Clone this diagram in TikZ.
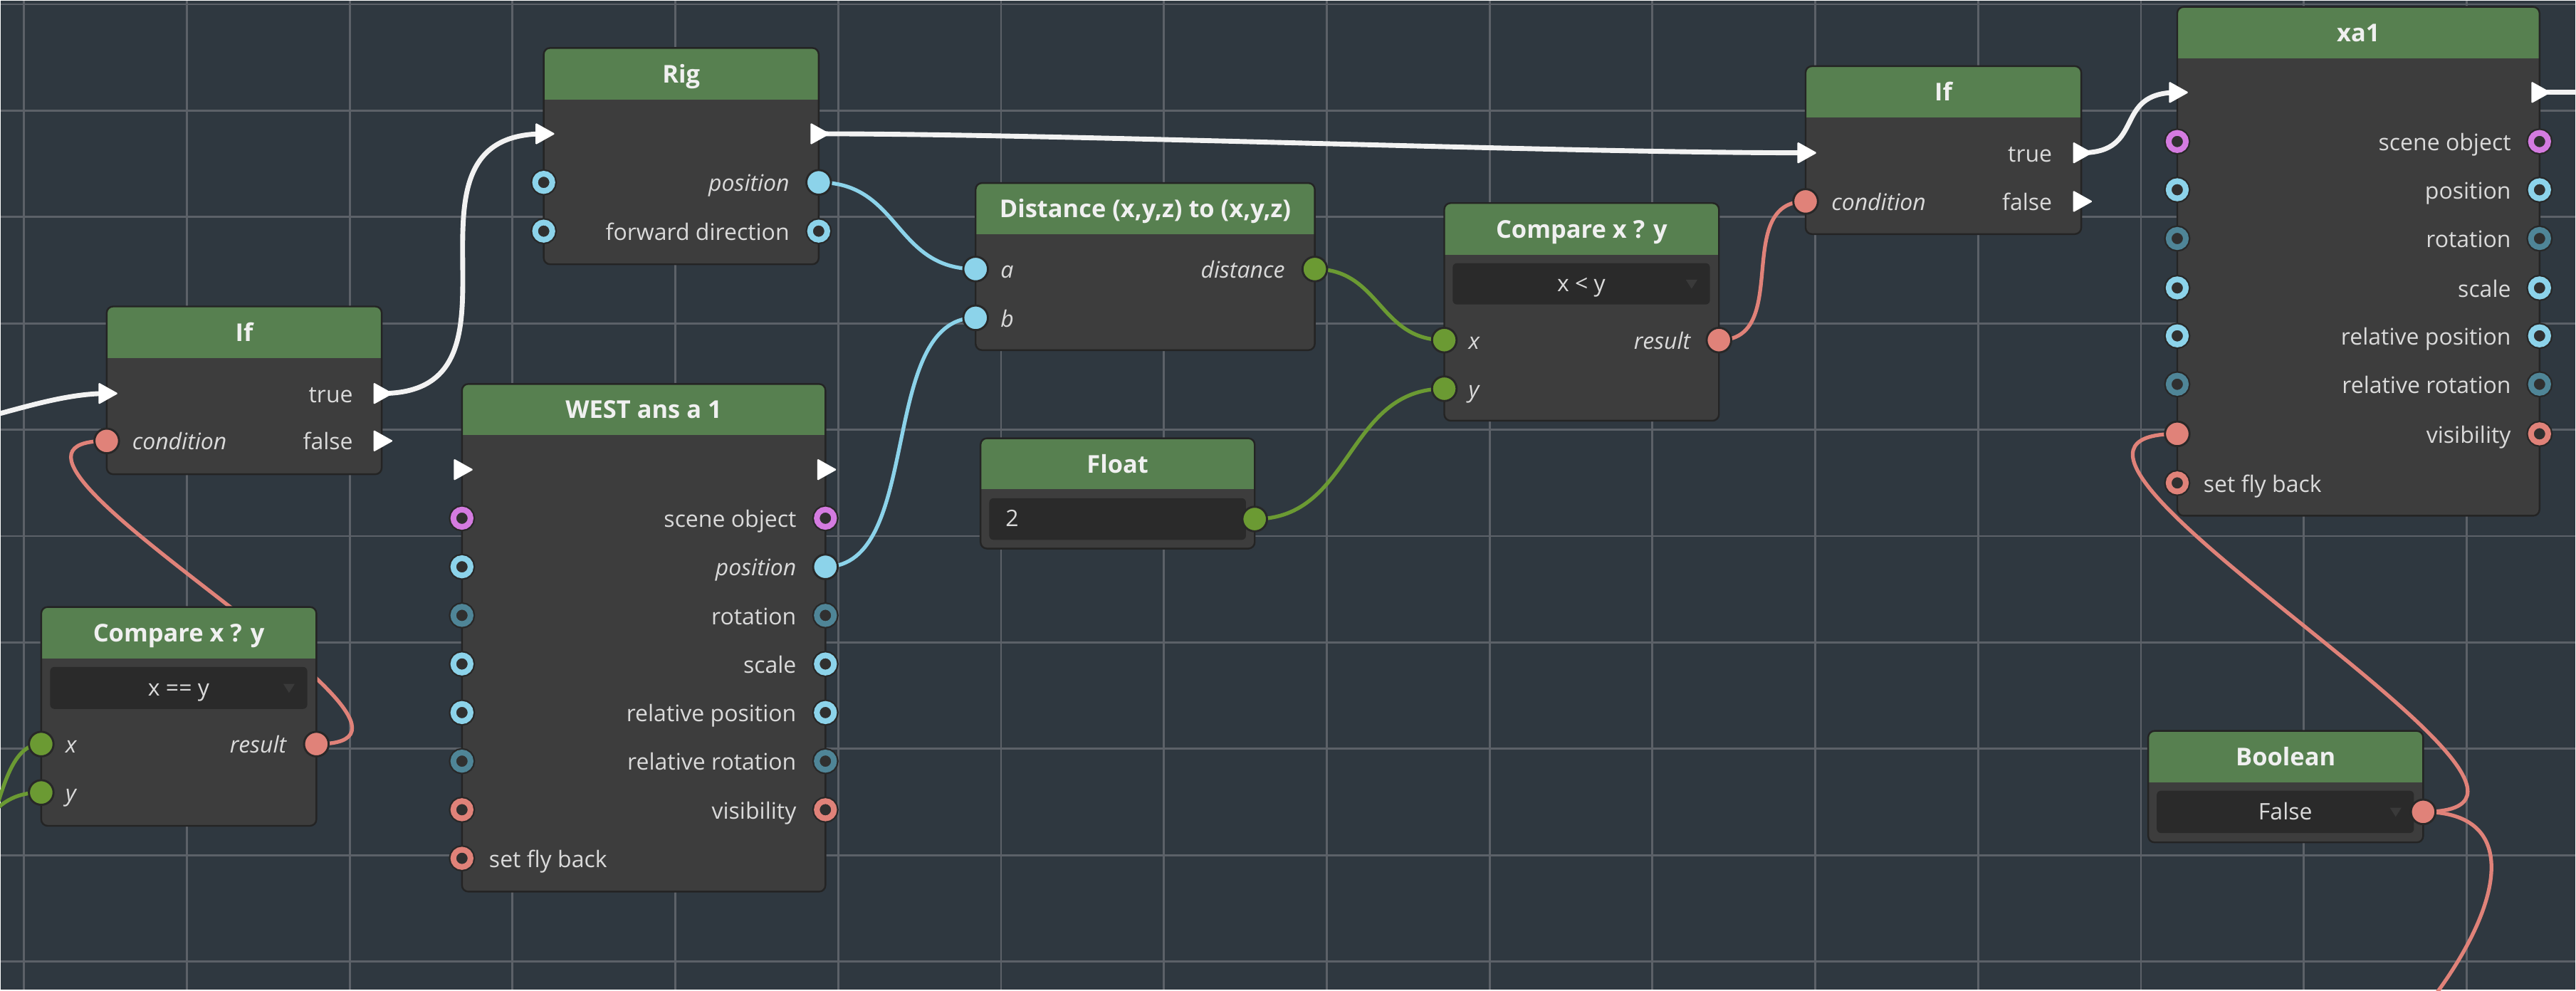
\documentclass[tikz,border=0pt]{standalone}
\usepackage{fontspec}
\setmainfont{Open Sans}
\usetikzlibrary{calc,fit}
\pgfdeclarelayer{gridlayer}
\pgfdeclarelayer{wirelayer}
\pgfsetlayers{gridlayer,wirelayer,main}
\definecolor{bgc}{RGB}{47,56,64}
\definecolor{gridc}{RGB}{92,97,104}
\definecolor{bodyc}{RGB}{61,61,61}
\definecolor{hdrc}{RGB}{87,128,80}
\definecolor{edgec}{RGB}{36,36,36}
\definecolor{ddc}{RGB}{42,42,42}
\definecolor{ddtric}{RGB}{58,58,58}
\definecolor{ttlc}{RGB}{240,240,240}
\definecolor{lblc}{RGB}{218,218,218}
\definecolor{ppink}{RGB}{224,130,121}
\definecolor{pgreen}{RGB}{107,154,51}
\definecolor{pblue}{RGB}{140,211,234}
\definecolor{pteal}{RGB}{79,133,151}
\definecolor{ppurple}{RGB}{212,123,224}
\definecolor{pinhole}{RGB}{48,48,48}
\definecolor{pinedge}{RGB}{40,40,40}
\definecolor{wirew}{RGB}{242,242,242}
\newcommand\lblfont{\fontsize{7.9}{9.5}\selectfont}
\newcommand\ttlfont{\fontsize{8.5}{10}\selectfont\bfseries}
\tikzset{
  gridl/.style={draw=gridc, line width=0.7pt},
  lbl/.style={text=lblc, font=\lblfont, inner sep=0pt},
  lbli/.style={lbl, font=\lblfont\itshape},
  ttl/.style={text=ttlc, font=\ttlfont, inner sep=0pt, anchor=base},
  ddtxt/.style={text=lblc, font=\lblfont, inner sep=0pt},
  hpin/.style={circle, draw=#1, fill=pinhole, line width=0.07cm, minimum size=0.21cm, inner sep=0pt, preaction={draw=pinedge, line width=0.11cm}},
  fpin/.style={circle, fill=#1, draw=pinedge, line width=0.025cm, minimum size=0.3cm, inner sep=0pt},
  xw/.style={draw=wirew, line width=1.7pt, line cap=round},
  cw/.style={draw=#1, line width=1.3pt, line cap=round},
}
\newcommand\gbox[7]{%
  \begin{scope}
    \clip[rounded corners=2.2pt] (#2,#3) rectangle (#4,#5);
    \fill[bodyc] (#2,#3) rectangle (#4,#5);
    \fill[hdrc] (#2,#3) rectangle (#4,#6);
  \end{scope}
  \node[fit={(#2,#3) (#4,#5)}, inner sep=0pt, draw=edgec, line width=0.6pt, rounded corners=2.2pt] (#1) {};
  \node[ttl] (#1-title) at ($(#2,#3)!0.5!(#4,#6) + (0,5.5)$) {#7};
}
\newcommand\ddbox[6]{%
  \node[fit={(#2,#3) (#4,#5)}, inner sep=0pt, fill=ddc, rounded corners=1.5pt] (#1) {};
  \node[ddtxt, anchor=base] (#1-txt) at ($(#1.center)+(0,4.8)$) {#6};
}
\newcommand\ddtri[1]{\fill[ddtric] ($(#1.east)+(-15,-2.5)$) -- ++(7,0) -- ++(-3.5,5.5) -- cycle;}
\newcommand\hp[4]{\node[hpin=#2] (#1) at (#3,#4) {};}
\newcommand\fp[4]{\node[fpin=#2] (#1) at (#3,#4) {};}
\newcommand\ex[3]{\coordinate (#1) at (#2,#3);
  \fill[white, rounded corners=0.4pt] ($(#1)+(-5,-6.7)$) -- ($(#1)+(7,0)$) -- ($(#1)+(-5,6.7)$) -- cycle;}
\begin{document}
\begin{tikzpicture}[x=0.02cm, y=-0.02cm]
\begin{pgfonlayer}{gridlayer}
  \fill[bgc] (0,0) rectangle (1568,602.4);
  \foreach \k in {0,...,15} \draw[gridl] ({14+99.2*\k},0) -- ({14+99.2*\k},602.4);
  \foreach \k in {0,...,9} \draw[gridl] (0,{2+64.8*\k}) -- (1568,{2+64.8*\k});
\end{pgfonlayer}
\useasboundingbox (0,0) rectangle (1568,602.4);

% ---- If (left)
\gbox{ifA}{64.4}{186.1}{231.9}{288.3}{217.7}{If}
\ex{ifA-in}{64.4}{239.1}
\ex{ifA-true}{231.9}{239.1}
\ex{ifA-false}{231.9}{268}
\fp{ifA-cond}{ppink}{64.4}{268}
\node[lbl, anchor=base east] (ifA-ttrue) at (214.7,239.1+5.5) {true};
\node[lbl, anchor=base east] (ifA-tfalse) at (214.7,268+5.5) {false};
\node[lbli, anchor=base west] (ifA-tcond) at (79.6,268+5.5) {condition};

% ---- Compare (left)
\gbox{cmpA}{24.5}{369.2}{192.1}{502.5}{400.5}{Compare x ? y}
\ddbox{cmpA-dd}{29.9}{405.7}{186.6}{431.3}{x == y}
\ddtri{cmpA-dd}
\fp{cmpA-x}{pgreen}{24.5}{452.7}
\fp{cmpA-y}{pgreen}{24.5}{482.2}
\fp{cmpA-res}{ppink}{192.1}{452.7}
\node[lbli, anchor=base west] (cmpA-tx) at (39,452.7+5.5) {x};
\node[lbli, anchor=base west] (cmpA-ty) at (39,482.2+5.5) {y};
\node[lbli, anchor=base east] (cmpA-tres) at (174.2,452.7+5.5) {result};

% ---- Rig
\gbox{rig}{330.6}{28.6}{498.1}{160.4}{60}{Rig}
\ex{rig-in}{330.6}{80.9}
\ex{rig-out}{498.1}{80.9}
\hp{rig-lpos}{pblue}{330.6}{110.5}
\fp{rig-rpos}{pblue}{498.1}{110.5}
\hp{rig-lfwd}{pblue}{330.6}{140.2}
\hp{rig-rfwd}{pblue}{498.1}{140.2}
\node[lbli, anchor=base east] (rig-tpos) at (480.6,110.5+5.5) {position};
\node[lbl, anchor=base east] (rig-tfwd) at (480.6,140.2+5.5) {forward direction};

% ---- WEST ans a 1
\gbox{west}{280.8}{233.3}{502.2}{542.6}{264.4}{WEST ans a 1}
\ex{west-in}{280.8}{285.5}
\ex{west-out}{502.2}{285.5}
\foreach \i/\yy/\c/\txt in {1/315.1/ppurple/scene object,3/374.3/pteal/rotation,4/403.9/pblue/scale,5/433.5/pblue/relative position,6/463.1/pteal/relative rotation,7/492.7/ppink/visibility}{
  \node[hpin=\c] (west-l\i) at (280.8,\yy) {};
  \node[hpin=\c] (west-r\i) at (502.2,\yy) {};
  \node[lbl, anchor=base east] (west-t\i) at (484.8,\yy+5.5) {\txt};
}
\hp{west-l2}{pblue}{280.8}{344.7}
\fp{west-r2}{pblue}{502.2}{344.7}
\node[lbli, anchor=base east] (west-t2) at (484.8,344.7+5.5) {position};
\hp{west-l8}{ppink}{280.8}{522.3}
\node[lbl, anchor=base west] (west-t8) at (297,522.3+5.5) {set fly back};

% ---- Distance
\gbox{dist}{593.7}{110.9}{800.3}{212.7}{142}{Distance (x,y,z) to (x,y,z)}
\fp{dist-a}{pblue}{593.7}{163.3}
\fp{dist-b}{pblue}{593.7}{193}
\fp{dist-out}{pgreen}{800.3}{163.3}
\node[lbli, anchor=base west] (dist-ta) at (608.6,163.3+5.5) {a};
\node[lbli, anchor=base west] (dist-tb) at (608.6,193+5.5) {b};
\node[lbli, anchor=base east] (dist-td) at (782.4,163.3+5.5) {distance};

% ---- Float
\gbox{flt}{596.7}{266.4}{763.7}{333.6}{297.4}{Float}
\node[fit={(602,302.9) (758.4,328.3)}, inner sep=0pt, fill=ddc, rounded corners=1.5pt] (flt-val) {};
\node[ddtxt, anchor=base west] (flt-txt) at (611.6,315.6+4.6) {2};
\fp{flt-out}{pgreen}{763.7}{315.6}

% ---- Compare (right)
\gbox{cmpB}{879.2}{123.1}{1046.5}{255.7}{154.6}{Compare x ? y}
\ddbox{cmpB-dd}{884.3}{159.7}{1041}{184.9}{x < y}
\ddtri{cmpB-dd}
\fp{cmpB-x}{pgreen}{879.2}{206.6}
\fp{cmpB-y}{pgreen}{879.2}{236.2}
\fp{cmpB-res}{ppink}{1046.5}{206.6}
\node[lbli, anchor=base west] (cmpB-tx) at (893.6,206.6+5.5) {x};
\node[lbli, anchor=base west] (cmpB-ty) at (893.6,236.2+5.5) {y};
\node[lbli, anchor=base east] (cmpB-tres) at (1029.5,206.6+5.5) {result};

% ---- If (right)
\gbox{ifB}{1099.3}{39.7}{1267.2}{142}{71.1}{If}
\ex{ifB-in}{1099.3}{92.5}
\ex{ifB-true}{1267.2}{92.5}
\ex{ifB-false}{1267.2}{122.1}
\fp{ifB-cond}{ppink}{1099.3}{122.1}
\node[lbl, anchor=base east] (ifB-ttrue) at (1249.8,92.5+5.5) {true};
\node[lbl, anchor=base east] (ifB-tfalse) at (1249.8,122.1+5.5) {false};
\node[lbli, anchor=base west] (ifB-tcond) at (1114.7,122.1+5.5) {condition};

% ---- xa1
\gbox{xa}{1325.7}{3.6}{1546.4}{313.6}{34.8}{xa1}
\ex{xa-in}{1325.7}{55.7}
\ex{xa-out}{1546.4}{55.7}
\foreach \i/\yy/\c/\txt in {1/85.6/ppurple/scene object,2/115/pblue/position,3/144.7/pteal/rotation,4/174.8/pblue/scale,5/204/pblue/relative position,6/233.5/pteal/relative rotation}{
  \node[hpin=\c] (xa-l\i) at (1325.7,\yy) {};
  \node[hpin=\c] (xa-r\i) at (1546.4,\yy) {};
  \node[lbl, anchor=base east] (xa-t\i) at (1529.3,\yy+5.5) {\txt};
}
\fp{xa-l7}{ppink}{1325.7}{263.7}
\hp{xa-r7}{ppink}{1546.4}{263.7}
\node[lbl, anchor=base east] (xa-t7) at (1529.3,263.7+5.5) {visibility};
\hp{xa-l8}{ppink}{1325.7}{293.6}
\node[lbl, anchor=base west] (xa-t8) at (1341.4,293.6+5.5) {set fly back};

% ---- Boolean
\gbox{bool}{1308}{444.7}{1475.5}{512.6}{476.1}{Boolean}
\ddbox{bool-dd}{1313.2}{481.1}{1469.9}{506.9}{False}
\ddtri{bool-dd}
\fp{bool-out}{ppink}{1475.5}{494}

% ---- free ends
\coordinate (lin0) at (-60,262);
\coordinate (lx0) at (-30,530);
\coordinate (ly0) at (-40,512);
\coordinate (xaend) at (1580,55.7);
\coordinate (boolend) at (1478,612);

\begin{pgfonlayer}{wirelayer}
  \draw[xw] (lin0) .. controls +(40,0) and +(-40,0) .. (ifA-in);
  \draw[xw] (ifA-true) .. controls +(100,0) and +(-100,0) .. (rig-in);
  \draw[xw] (rig-out) .. controls +(150,0) and +(-150,0) .. (ifB-in);
  \draw[xw] (ifB-true) .. controls +(40,0) and +(-40,0) .. (xa-in);
  \draw[xw] (xa-out) -- (xaend);
  \draw[cw=pblue] (rig-rpos.center) .. controls +(50,0) and +(-50,0) .. (dist-a.center);
  \draw[cw=pblue] (west-r2.center) .. controls +(60,0) and +(-60,0) .. (dist-b.center);
  \draw[cw=pgreen] (dist-out.center) .. controls +(40,0) and +(-40,0) .. (cmpB-x.center);
  \draw[cw=pgreen] (flt-out.center) .. controls +(60,0) and +(-60,0) .. (cmpB-y.center);
  \draw[cw=ppink] (cmpB-res.center) .. controls +(45,0) and +(-45,0) .. (ifB-cond.center);
  \draw[cw=ppink] (cmpA-res.center) .. controls +(110,0) and +(-110,0) .. (ifA-cond.center);
  \draw[cw=pgreen] (lx0) .. controls +(30,0) and +(-30,0) .. (cmpA-x.center);
  \draw[cw=pgreen] (ly0) .. controls +(35,0) and +(-35,0) .. (cmpA-y.center);
  \draw[cw=ppink] (bool-out.center) .. controls +(135,0) and +(-135,0) .. (xa-l7.center);
  \draw[cw=ppink] (bool-out.center) .. controls (1535,494) and (1526,550) .. (boolend);
\end{pgfonlayer}
\end{tikzpicture}
\end{document}
